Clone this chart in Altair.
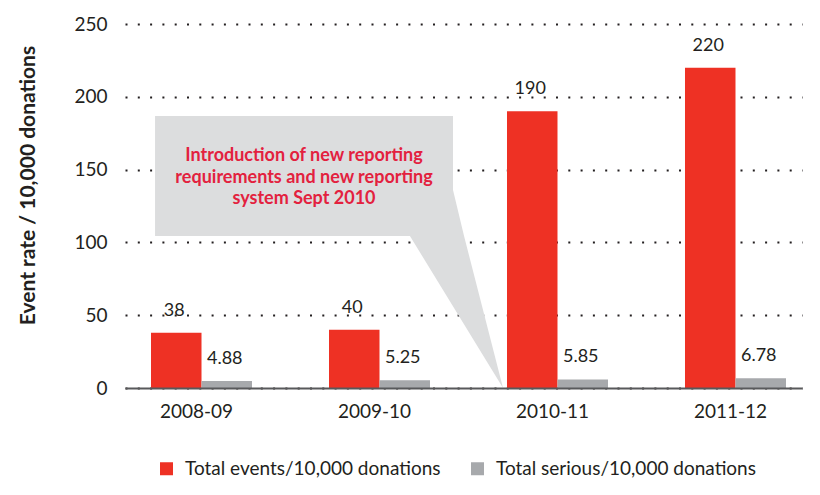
import altair as alt
import pandas as pd

FONT = "Lato"
TEXT_COLOR = "#231F20"

categories = ["2008-09", "2009-10", "2010-11", "2011-12"]
total_events = [38, 40, 190, 220]
total_serious = [4.88, 5.25, 5.85, 6.78]
event_labels = ["38", "40", "190", "220"]
serious_labels = ["4.88", "5.25", "5.85", "6.78"]
series_names = ["Total events/10,000 donations", "Total serious/10,000 donations"]
series_colors = ["#EE3124", "#A7A9AC"]
y_ticks = [0, 50, 100, 150, 200, 250]

callout_lines = ["Introduction of new reporting",
                 "requirements and new reporting",
                 "system Sept 2010"]
# callout geometry in data units (x: category index, y: event rate)
box_x = [-0.261, 1.413]
box_y = [104.4, 186.8]
pointer_y = [0, 104.4, 136]
pointer_x = [1.694, 1.171, 1.171]
pointer_x2 = [1.694, 1.475, 1.413]
callout_first_line = [0.576, 159.3]
index_domain = [-0.42978, 3.37360]

rows = []
for c, v, l in zip(categories, total_events, event_labels):
    rows.append({"category": c, "series": series_names[0], "value": v, "label": l})
for c, v, l in zip(categories, total_serious, serious_labels):
    rows.append({"category": c, "series": series_names[1], "value": v, "label": l})
df = pd.DataFrame(rows)

band_scale = alt.Scale(paddingInner=0.43258, paddingOuter=0.118, align=0.619, round=False)
offset_scale = alt.Scale(paddingInner=0, paddingOuter=0)
y_scale = alt.Scale(domain=[0, 250], nice=False)

bars = alt.Chart(df).mark_bar().encode(
    x=alt.X("category:N", sort=categories, scale=band_scale, title=None,
            axis=alt.Axis(ticks=False, domainColor="#58595B", domainWidth=2,
                          labelFontSize=19, labelColor=TEXT_COLOR, labelFont=FONT,
                          labelPadding=14, labelOffset=-5, labelAngle=0, grid=False,
                          zindex=1)),
    xOffset=alt.XOffset("series:N", sort=series_names, scale=offset_scale),
    y=alt.Y("value:Q", scale=y_scale,
            axis=alt.Axis(values=y_ticks, title="Event rate / 10,000 donations",
                          titleFontSize=21, titleFont=FONT, titleFontWeight="bold",
                          titleColor=TEXT_COLOR, titleX=-91, titleY=161,
                          titleAngle=270, titleAlign="center", titleBaseline="alphabetic",
                          labelFontSize=19, labelColor=TEXT_COLOR, labelFont=FONT,
                          labelPadding=18, ticks=False, domain=False,
                          grid=True, gridColor=TEXT_COLOR, gridDash=[2, 10.3],
                          gridWidth=2, zindex=0)),
    color=alt.Color("series:N", sort=series_names,
                    scale=alt.Scale(domain=series_names, range=series_colors),
                    legend=alt.Legend(orient="none", legendX=32, legendY=435,
                                      direction="horizontal", title=None,
                                      symbolType="square", symbolSize=169,
                                      symbolStrokeWidth=0, labelFontSize=19,
                                      labelColor=TEXT_COLOR, labelFont=FONT,
                                      labelLimit=0, columnPadding=27, labelOffset=9)),
)

value_labels = alt.Chart(df).mark_text(
    dy=-17, dx=-2, baseline="alphabetic", align="center",
    fontSize=18, font=FONT, color=TEXT_COLOR
).encode(
    x=alt.X("category:N", sort=categories, scale=band_scale, axis=None),
    xOffset=alt.XOffset("series:N", sort=series_names, scale=offset_scale),
    y=alt.Y("value:Q", scale=y_scale),
    text="label:N",
)

xq = alt.Scale(domain=index_domain, nice=False, zero=False)

box_df = pd.DataFrame({"x": [box_x[0]], "x2": [box_x[1]], "y": [box_y[0]], "y2": [box_y[1]]})
box = alt.Chart(box_df).mark_rect(color="#DCDDDE").encode(
    x=alt.X("x:Q", scale=xq, axis=None), x2="x2",
    y=alt.Y("y:Q", scale=y_scale), y2="y2",
)

wedge_df = pd.DataFrame({"py": pointer_y, "px": pointer_x, "px2": pointer_x2})
wedge = alt.Chart(wedge_df).mark_area(orient="horizontal", color="#DCDDDE", opacity=1).encode(
    y=alt.Y("py:Q", scale=y_scale),
    x=alt.X("px:Q", scale=xq, axis=None), x2="px2",
)

callout_df = pd.DataFrame({"cx": [callout_first_line[0]], "cy": [callout_first_line[1]],
                           "t": [callout_lines]})
callout_text = alt.Chart(callout_df).mark_text(
    align="center", baseline="middle", fontSize=18, font=FONT, fontWeight="bold",
    color="#E3213E", lineHeight=21.5
).encode(
    x=alt.X("cx:Q", scale=xq, axis=None),
    y=alt.Y("cy:Q", scale=y_scale),
    text="t",
)

chart = alt.layer(bars, value_labels, wedge, box, callout_text).resolve_scale(
    x="independent"
).properties(
    width=677, height=364,
    autosize=alt.AutoSizeParams(type="none"),
    padding={"left": 125, "top": 24, "right": 18, "bottom": 107},
    background="white",
).configure_view(stroke=None)

chart.save("out.html", embed_options={"renderer": "svg", "actions": False})
